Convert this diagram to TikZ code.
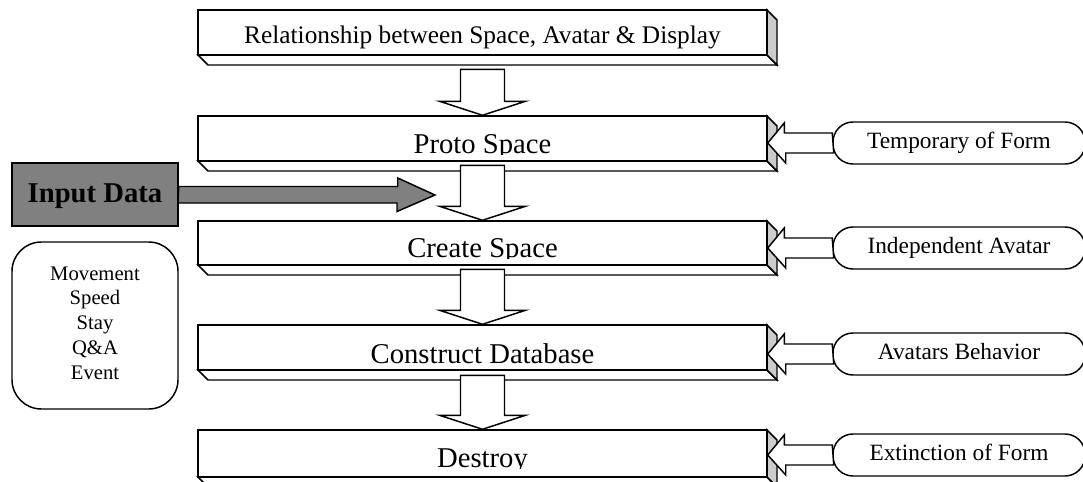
\documentclass[tikz,border=0pt]{standalone}
\usepackage{xcolor}
\usepackage{fontspec}
\setmainfont{Liberation Serif}
\usepackage{tikz}
\usetikzlibrary{calc}
\definecolor{sidegray}{gray}{0.8}
\definecolor{inputgray}{gray}{0.5}

\begin{document}
\begin{tikzpicture}[x=0.75pt, y=-0.75pt, line width=1.1pt,
    face/.style={draw=black, fill=white},
    blockarrow/.style={draw=black, fill=white},
    pill/.style={draw, fill=white, rounded corners=15pt, minimum width=189pt, minimum height=31.5pt,
        text height=12pt, text depth=4pt, font=\fontsize{17.5}{21}\selectfont}]
    \clip (0,0) rectangle (1083,482);
    % stacked steps with depth
    \foreach \nm/\yt/\yb/\ybase/\ycut/\fs/\txt in {rel/10/55/43/55/19/{Relationship between Space, Avatar \& Display},
        proto/116/161/153/154.5/21.5/{Proto Space}, create/221/265/257/258.5/21.5/{Create Space},
        construct/325/370/363/370/21.5/{Construct Database}, destroy/430/477/467/468.5/21.5/{Destroy}}
    {
        \draw[face] (198,\yb) -- (208,\yb+10) -- (777,\yb+10) -- (767,\yb) -- cycle;
        \draw[face, fill=sidegray] (767,\yt) -- (777,\yt+10) -- (777,\yb+10) -- (767,\yb) -- cycle;
        \node[face, minimum width=426.75pt, minimum height={(\yb-\yt)*0.75pt}, inner sep=0pt] (\nm) at (482.5,{(\yt+\yb)/2}) {};
        \begin{scope}
            \clip (198,\yt) rectangle (767,\ycut);
            \node[anchor=base, font=\fontsize{\fs}{\fs}\selectfont] (\nm-text) at (482.5,\ybase) {\txt};
        \end{scope}
    }
    % down arrows
    \foreach \nm/\len in {proto/46, create/55, construct/55, destroy/54}
        \draw[blockarrow] (\nm.north) -- ++(-43,-14) -- ++(21,0) -- ++(0,{14-\len}) -- ++(44,0)
            -- ++(0,{\len-14}) -- ++(21,0) -- cycle;
    % side inputs
    \foreach \nm/\pl/\yc/\txt in {proto/tempform/143/Temporary of Form, create/indep/248/Independent Avatar,
        construct/behav/354/Avatars Behavior, destroy/extinct/455/Extinction of Form}
    {
        \node[pill] (\pl) at (959,\yc) {\txt};
        \draw[blockarrow] (\pl.west) ++(0,-10) -- ++(-48,0) -- ++(0,-10) -- (\nm.east |- \pl.west)
            -- ++(18,20) -- ++(0,-10) -- ++(48,0) -- cycle;
    }
    % input data
    \node[draw, fill=inputgray, minimum width=124.5pt, minimum height=47.25pt, text height=15pt, text depth=3pt,
        font=\bfseries\fontsize{21.5}{24}\selectfont] (input) at (95,194.5) {Input Data};
    \coordinate (feed) at (435,195);
    \draw[blockarrow, fill=inputgray] (input.east) ++(0,-8) -- ++(219,0) -- ++(0,-8.5) -- (feed)
        -- ++(-38,16.5) -- ++(0,-8.5) -- ++(-219,0) -- cycle;
    % attributes
    \node[draw, rounded corners=22pt, minimum width=124.5pt, minimum height=125.25pt] (attrs) at (95,325.5) {};
    \node[align=center, font=\fontsize{15.5}{18.56}\selectfont] (attrs-text) at (95,323) {Movement\\Speed\\Stay\\Q\&A\\Event};
\end{tikzpicture}
\end{document}
